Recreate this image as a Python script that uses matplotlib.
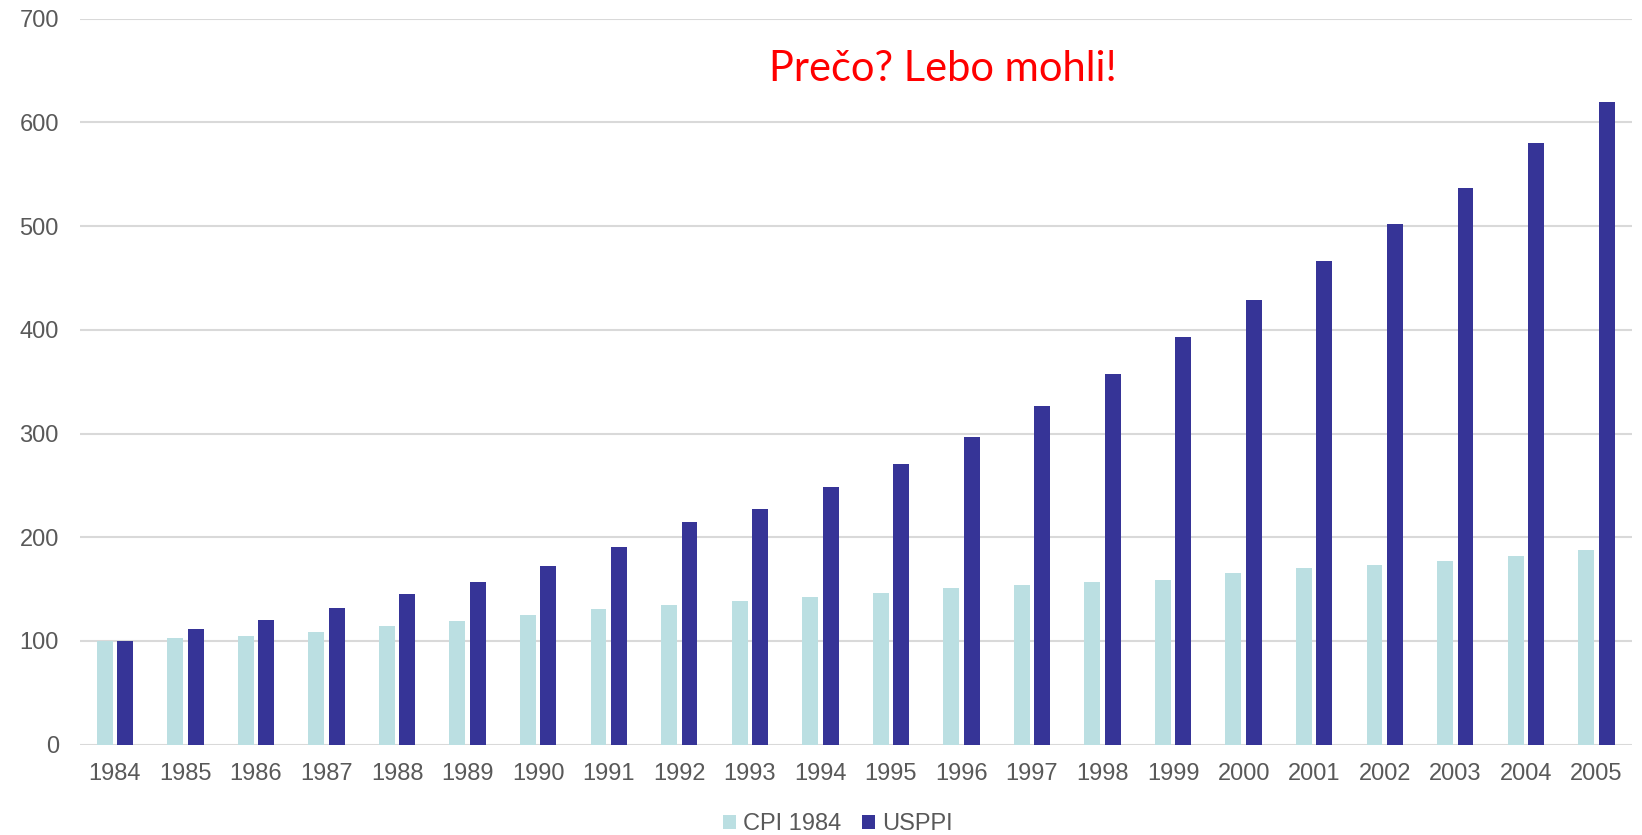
import matplotlib
matplotlib.use("Agg")
import matplotlib.pyplot as plt
import numpy as np


years = [str(y) for y in range(1984, 2006)]
cpi_1984 = [100, 103, 105, 109, 114, 119, 125, 131, 135, 138, 142, 146, 151, 154, 157, 159,
            165, 170, 173, 177, 182, 188]
usppi = [100, 111, 120, 132, 145, 157, 172, 191, 215, 227, 248, 271, 297, 327, 357, 393,
         429, 466, 502, 537, 580, 620]

title_text = "Prečo? Lebo mohli!"


def main():
    plt.rcParams["font.family"] = ["Liberation Sans", "DejaVu Sans"]

    fig = plt.figure(figsize=(16.42, 8.35), dpi=100)
    ax = fig.add_axes([0.0485, 0.1083, 0.9452, 0.8692])

    x = np.arange(len(years))
    width = 0.225
    offset = 0.145

    ax.bar(x - offset, cpi_1984, width, color="#BBDFE2", label="CPI 1984", zorder=3)
    ax.bar(x + offset, usppi, width, color="#363497", label="USPPI", zorder=3)

    ax.set_xlim(-0.5, len(years) - 0.5)
    ax.set_ylim(0, 700)
    ax.set_yticks(range(0, 701, 100))
    ax.set_xticks(x)
    ax.set_xticklabels(years)

    ax.grid(axis="y", color="#D9D9D9", linewidth=1.5, zorder=0)
    for s in ax.spines.values():
        s.set_visible(False)
    ax.tick_params(axis="both", length=0, labelsize=17, labelcolor="#595959")
    ax.tick_params(axis="y", pad=15)
    ax.tick_params(axis="x", pad=13)

    fig.text(943 / 1642, 1 - 69 / 835, title_text, color="#FF0000", fontsize=30,
             family=["Lato", "DejaVu Sans"], ha="center", va="center")

    fig.legend(loc="center", bbox_to_anchor=(838 / 1642, 1 - 824 / 835), ncol=2,
               frameon=False, fontsize=17, labelcolor="#595959",
               handlelength=0.55, handleheight=0.55, handletextpad=0.3, columnspacing=0.9)

    fig.savefig("out.png", dpi=100)
    plt.close(fig)


if __name__ == "__main__":
    main()
